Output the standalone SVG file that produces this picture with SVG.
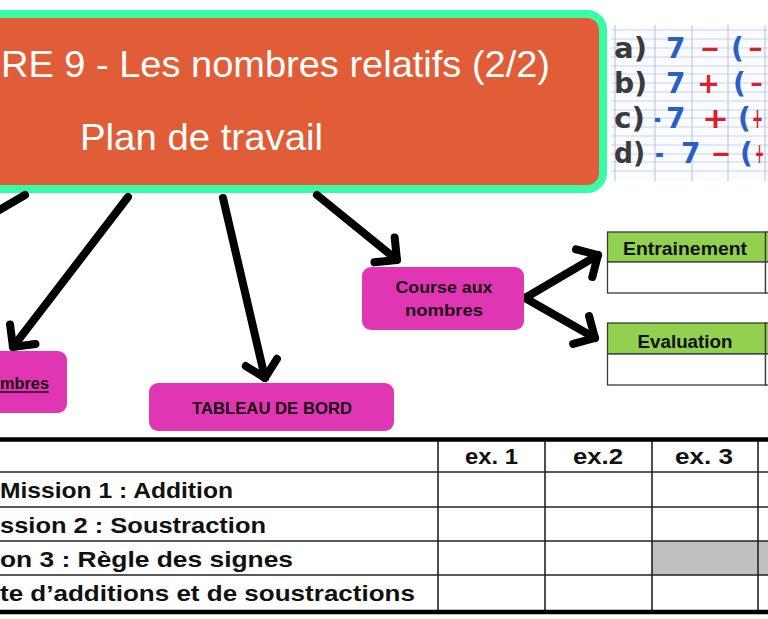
<svg xmlns="http://www.w3.org/2000/svg" width="768" height="619" viewBox="0 0 768 619">
<defs>
<style>
.title{font-family:"Liberation Sans",Arial,sans-serif;font-size:37px;fill:#ffffff}
.node{fill:#E036B4}
.nt{font-family:"Liberation Sans",Arial,sans-serif;font-weight:bold;font-size:16px;fill:#1a0a14;text-anchor:middle}
.conn{fill:none;stroke:#000;stroke-width:8;stroke-linecap:round;stroke-linejoin:round}
.gh{fill:#92D050;stroke:#3a3a3a;stroke-width:1.3}
.gc{fill:#fff;stroke:#3a3a3a;stroke-width:1.3}
.tt{font-family:"Liberation Sans",Arial,sans-serif;font-weight:bold;font-size:18px;fill:#111;text-anchor:middle}
.tl{stroke:#222;stroke-width:1.6}
.tk{stroke:#000;stroke-width:4.5}
.bt{font-family:"Liberation Sans",Arial,sans-serif;font-weight:bold;font-size:22px;fill:#111}
.hw{font-family:"DejaVu Sans",sans-serif;font-size:28px;font-weight:bold}
.k{fill:#3a3a3a}
.b{fill:#2a5fc4}
.r{fill:#d8202a}
.gl{stroke:#c9d3ee;stroke-width:1}
.gv{stroke:#b3c0e2;stroke-width:1}
</style>
<marker id="arr" markerUnits="userSpaceOnUse" viewBox="-24 -24 32 48" refX="0" refY="0" markerWidth="32" markerHeight="48" orient="auto" overflow="visible">
<path d="M -16 -16 L 0 0 L -16 16" fill="none" stroke="#000" stroke-width="8" stroke-linecap="round" stroke-linejoin="round"/>
</marker>
</defs>
<rect width="768" height="619" fill="#fff"/>

<g id="paper">
<rect x="611" y="25" width="157" height="156" fill="#fbfcff"/>
<g>
<line class="gl" x1="611" y1="30" x2="768" y2="30"/>
<line class="gl" x1="611" y1="39" x2="768" y2="39"/>
<line class="gl" x1="611" y1="48" x2="768" y2="48"/>
<line class="gl" x1="611" y1="57" x2="768" y2="57"/>
<line class="gl" x1="611" y1="66" x2="768" y2="66"/>
<line class="gl" x1="611" y1="74" x2="768" y2="74"/>
<line class="gl" x1="611" y1="83" x2="768" y2="83"/>
<line class="gl" x1="611" y1="92" x2="768" y2="92"/>
<line class="gl" x1="611" y1="101" x2="768" y2="101"/>
<line class="gl" x1="611" y1="110" x2="768" y2="110"/>
<line class="gl" x1="611" y1="118" x2="768" y2="118"/>
<line class="gl" x1="611" y1="127" x2="768" y2="127"/>
<line class="gl" x1="611" y1="136" x2="768" y2="136"/>
<line class="gl" x1="611" y1="145" x2="768" y2="145"/>
<line class="gl" x1="611" y1="154" x2="768" y2="154"/>
<line class="gl" x1="611" y1="162" x2="768" y2="162"/>
<line class="gl" x1="611" y1="171" x2="768" y2="171"/>
<line class="gv" x1="615" y1="25" x2="615" y2="181"/>
<line class="gv" x1="655" y1="25" x2="655" y2="181"/>
<line class="gv" x1="692" y1="25" x2="692" y2="181"/>
<line class="gv" x1="728" y1="25" x2="728" y2="181"/>
<line class="gv" x1="765" y1="25" x2="765" y2="181"/>
</g>
<text class="hw k" x="614" y="58" textLength="33" lengthAdjust="spacingAndGlyphs">a)</text>
<text class="hw b" x="666" y="58">7</text>
<text class="hw r" x="700" y="58" textLength="20" lengthAdjust="spacingAndGlyphs">−</text>
<text class="hw b" x="731" y="58">(</text>
<text class="hw r" x="748" y="58" textLength="15" lengthAdjust="spacingAndGlyphs">−</text>

<text class="hw k" x="614" y="93" textLength="33" lengthAdjust="spacingAndGlyphs">b)</text>
<text class="hw b" x="666" y="93">7</text>
<text class="hw r" x="697" y="93" textLength="23" lengthAdjust="spacingAndGlyphs">+</text>
<text class="hw b" x="733" y="93">(</text>
<text class="hw r" x="750" y="93" textLength="13" lengthAdjust="spacingAndGlyphs">−</text>

<text class="hw k" x="614" y="128" textLength="31" lengthAdjust="spacingAndGlyphs">c)</text>
<text class="hw b" x="654" y="128" textLength="7" lengthAdjust="spacingAndGlyphs">-</text>
<text class="hw b" x="666" y="128">7</text>
<text class="hw r" x="702" y="128" textLength="27" lengthAdjust="spacingAndGlyphs">+</text>
<text class="hw b" x="738" y="128">(</text>
<text class="hw r" x="752" y="128" textLength="11" lengthAdjust="spacingAndGlyphs">+</text>

<text class="hw k" x="614" y="163" textLength="31" lengthAdjust="spacingAndGlyphs">d)</text>
<text class="hw b" x="655" y="163" textLength="9" lengthAdjust="spacingAndGlyphs">-</text>
<text class="hw b" x="681" y="163">7</text>
<text class="hw r" x="711" y="163" textLength="20" lengthAdjust="spacingAndGlyphs">−</text>
<text class="hw b" x="740" y="163">(</text>
<text class="hw r" x="755" y="163" textLength="9" lengthAdjust="spacingAndGlyphs">+</text>
</g>

<g id="title">
<rect x="-20" y="14" width="623" height="175" rx="16" fill="#E05D38" stroke="#38FCA6" stroke-width="8"/>
<text class="title" x="1" y="77" textLength="549" lengthAdjust="spacingAndGlyphs">RE 9 - Les nombres relatifs (2/2)</text>
<text class="title" x="80" y="150" textLength="243" lengthAdjust="spacingAndGlyphs">Plan de travail</text>
</g>

<g id="connectors">
<path class="conn" d="M25 195 L-6 213"/>
<path class="conn" d="M128 197 L13 347" marker-end="url(#arr)"/>
<path class="conn" d="M223 198 L265 378" marker-end="url(#arr)"/>
<path class="conn" d="M317 195 L397 260" marker-end="url(#arr)"/>
<path class="conn" d="M525 298 L598 255" marker-end="url(#arr)"/>
<path class="conn" d="M525 298 L595 338" marker-end="url(#arr)"/>
</g>

<g id="node-nombres">
<rect class="node" x="-20" y="351" width="87" height="62" rx="9"/>
<text class="nt" x="0" y="389" style="text-anchor:start" textLength="49" lengthAdjust="spacingAndGlyphs">mbres</text>
<line x1="0" y1="392" x2="49" y2="392" stroke="#1a0a14" stroke-width="1.5"/>
</g>

<g id="node-tableau">
<rect class="node" x="149" y="383" width="245" height="48" rx="9"/>
<text class="nt" x="272" y="414" textLength="160" lengthAdjust="spacingAndGlyphs">TABLEAU DE BORD</text>
</g>

<g id="node-course">
<rect class="node" x="362" y="267" width="162" height="63" rx="9"/>
<text class="nt" x="444" y="293" textLength="97" lengthAdjust="spacingAndGlyphs">Course aux</text>
<text class="nt" x="444" y="316" textLength="78" lengthAdjust="spacingAndGlyphs">nombres</text>
</g>

<g id="node-entrainement">
<rect class="gh" x="607.5" y="232" width="158" height="30"/>
<rect class="gh" x="765.5" y="232" width="10" height="30"/>
<rect class="gc" x="607.5" y="262" width="158" height="31"/>
<rect class="gc" x="765.5" y="262" width="10" height="31"/>
<text class="tt" x="685" y="255" textLength="124" lengthAdjust="spacingAndGlyphs">Entrainement</text>
</g>

<g id="node-evaluation">
<rect class="gh" x="607.5" y="323" width="158" height="31"/>
<rect class="gh" x="765.5" y="323" width="10" height="31"/>
<rect class="gc" x="607.5" y="354" width="158" height="31"/>
<rect class="gc" x="765.5" y="354" width="10" height="31"/>
<text class="tt" x="685" y="348" textLength="95" lengthAdjust="spacingAndGlyphs">Evaluation</text>
</g>

<g id="table">
<rect x="652" y="541" width="120" height="34" fill="#C0C0C0"/>
<line class="tl" x1="0" y1="472" x2="768" y2="472"/>
<line class="tl" x1="0" y1="507" x2="768" y2="507"/>
<line class="tl" x1="0" y1="541" x2="768" y2="541"/>
<line class="tl" x1="0" y1="575" x2="768" y2="575"/>
<line class="tl" x1="438" y1="440" x2="438" y2="611"/>
<line class="tl" x1="545" y1="440" x2="545" y2="611"/>
<line class="tl" x1="652" y1="440" x2="652" y2="611"/>
<line class="tl" x1="758" y1="440" x2="758" y2="611"/>
<line class="tk" x1="0" y1="439.5" x2="768" y2="439.5"/>
<line class="tk" x1="0" y1="612" x2="768" y2="612"/>
<text class="bt" x="465" y="464" textLength="53" lengthAdjust="spacingAndGlyphs">ex. 1</text>
<text class="bt" x="573" y="464" textLength="50" lengthAdjust="spacingAndGlyphs">ex.2</text>
<text class="bt" x="675" y="464" textLength="58" lengthAdjust="spacingAndGlyphs">ex. 3</text>
<text class="bt" x="0" y="498" textLength="233" lengthAdjust="spacingAndGlyphs">Mission 1 : Addition</text>
<text class="bt" x="0" y="533" textLength="266" lengthAdjust="spacingAndGlyphs">ssion 2 : Soustraction</text>
<text class="bt" x="0" y="567" textLength="293" lengthAdjust="spacingAndGlyphs">on 3 : Règle des signes</text>
<text class="bt" x="0" y="601" textLength="415" lengthAdjust="spacingAndGlyphs">te d’additions et de soustractions</text>
</g>
</svg>
